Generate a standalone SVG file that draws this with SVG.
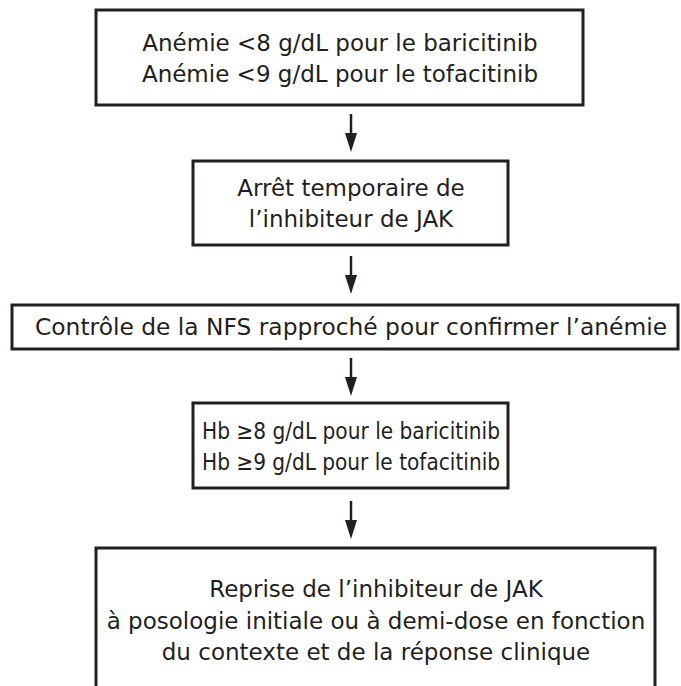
<svg xmlns="http://www.w3.org/2000/svg" width="681" height="686" viewBox="0 0 681 686">
<style>
.box{fill:#fff;stroke:#231f20;stroke-width:3}
.t{font-family:"DejaVu Sans","Liberation Sans",sans-serif;font-size:23px;fill:#231f20;text-anchor:middle}
.c{stroke:#231f20;stroke-width:2.5;fill:none}
.h{fill:#231f20}
</style>
<rect width="681" height="686" fill="#fff"/>
<g id="n1">
<rect class="box" x="96" y="10" width="487" height="95"/>
<text class="t" x="340" y="51">Anémie &lt;8 g/dL pour le baricitinib</text>
<text class="t" x="340" y="82">Anémie &lt;9 g/dL pour le tofacitinib</text>
</g>
<g id="n2">
<rect class="box" x="193" y="161" width="315" height="84"/>
<text class="t" x="351" y="196">Arrêt temporaire de</text>
<text class="t" x="351" y="227">l’inhibiteur de JAK</text>
</g>
<g id="n3">
<rect class="box" x="12" y="305" width="666" height="44"/>
<text class="t" x="351" y="335" textLength="632" lengthAdjust="spacingAndGlyphs">Contrôle de la NFS rapproché pour confirmer l’anémie</text>
</g>
<g id="n4">
<rect class="box" x="193" y="403" width="315" height="85"/>
<text class="t" x="351" y="439" textLength="298" lengthAdjust="spacingAndGlyphs">Hb ≥8 g/dL pour le baricitinib</text>
<text class="t" x="351" y="470" textLength="298" lengthAdjust="spacingAndGlyphs">Hb ≥9 g/dL pour le tofacitinib</text>
</g>
<g id="n5">
<path class="box" d="M96 690 V548 H655 V690"/>
<text class="t" x="376" y="597">Reprise de l’inhibiteur de JAK</text>
<text class="t" x="376" y="629">à posologie initiale ou à demi-dose en fonction</text>
<text class="t" x="376" y="660">du contexte et de la réponse clinique</text>
</g>
<g id="connectors">
<line class="c" x1="351" y1="114" x2="351" y2="135"/>
<path class="h" d="M345 133 L357 133 L351 152 Z"/>
<line class="c" x1="351" y1="256" x2="351" y2="277"/>
<path class="h" d="M345 275 L357 275 L351 294 Z"/>
<line class="c" x1="351" y1="358" x2="351" y2="379"/>
<path class="h" d="M345 377 L357 377 L351 396 Z"/>
<line class="c" x1="351" y1="501" x2="351" y2="522"/>
<path class="h" d="M345 520 L357 520 L351 539 Z"/>
</g>
</svg>
